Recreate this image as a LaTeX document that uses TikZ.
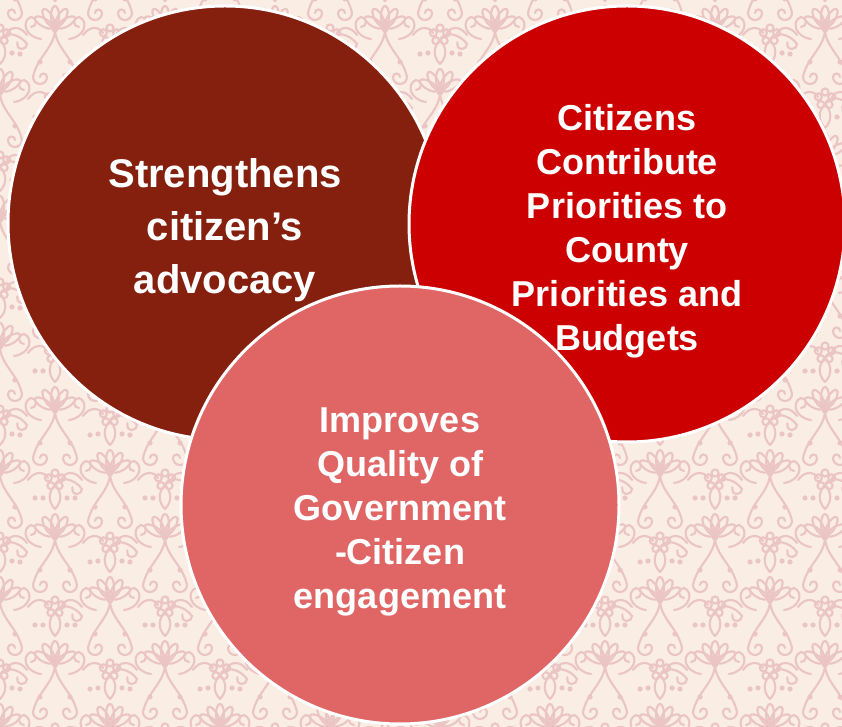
\documentclass[tikz,border=0pt]{standalone}
\usepackage{fontspec}
\setmainfont{Liberation Sans}
\definecolor{bgbase}{HTML}{F9EDE4}
\definecolor{patpink}{HTML}{EBC4C4}
\definecolor{cbrown}{HTML}{86200E}
\definecolor{cred}{HTML}{CC0000}
\definecolor{cpink}{HTML}{E06666}
\tikzset{
  pat/.style={draw=patpink, line width=2.1pt, line cap=round},
  patdot/.style={fill=patpink},
  motif/.pic={
    % fan flower
    \foreach \a in {30,60,90,120,150}
      \draw[pat, rotate=\a] (13,0) ellipse (10 and 4);
    \fill[patdot] (0,0) circle (3.5);
    % stems
    \draw[pat] (0,0) .. controls (0,-18) and (-18,-28) .. (-22,-48);
    \draw[pat] (0,0) .. controls (0,-18) and (18,-28) .. (22,-48);
    % swirls at ends
    \draw[pat] (-22,-48) arc (180:360:7) arc (0:180:3.5);
    \draw[pat] (22,-48) arc (0:-180:7) arc (180:0:3.5);
    % side swirls near flower
    \draw[pat] (-14,-10) .. controls (-30,-8) and (-34,8) .. (-24,12) arc (90:-90:5);
    \draw[pat] (14,-10) .. controls (30,-8) and (34,8) .. (24,12) arc (90:270:5);
    % small flower above
    \foreach \a in {0,72,144,216,288}
      \draw[pat] ($(0,-70)+(\a+90:7)$) circle (3.5);
    % leaves
    \draw[pat] (0,28) .. controls (-8,36) and (-6,46) .. (0,52) .. controls (6,46) and (8,36) .. (0,28);
    % vines between tiles
    \draw[pat] (0,52) .. controls (4,62) and (20,58) .. (27,48) arc (0:-200:5);
    \draw[pat] (-27,-70) .. controls (-20,-60) and (-10,-62) .. (-7,-68);
    \draw[pat] (27,-70) .. controls (20,-60) and (10,-62) .. (7,-68);
    % dots
    \fill[patdot] (-35,-25) circle (2.6);
    \fill[patdot] (35,-25) circle (2.6);
    \fill[patdot] (-12,-88) circle (2.6);
    \fill[patdot] (12,-88) circle (2.6);
    \fill[patdot] (-40,30) circle (2.6);
    \fill[patdot] (40,30) circle (2.6);
  },
  bubble/.style={circle, draw=white, line width=3pt},
  bubbletext/.style={text=white, align=center},
}
\usetikzlibrary{calc}
\begin{document}
\begin{tikzpicture}[x=1pt, y=1pt]
\useasboundingbox (0,0) rectangle (842,727);
\fill[bgbase] (0,0) rectangle (842,727);
\begin{scope}
  \clip (0,0) rectangle (842,727);
  \foreach \i in {-1,...,8} {
    \foreach \j in {-1,...,6} {
      \pic at (\i*110, \j*127) {motif};
      \pic at (\i*110+55, \j*127+63) {motif};
    }
  }
\end{scope}
\node[bubble, fill=cbrown, minimum size=434] (c1) at (225,504) {};
\node[bubbletext, font=\bfseries\fontsize{40}{53}\selectfont] (t1)
  at ([yshift=-7]c1.center) {Strengthens\\citizen’s\\advocacy};
\node[bubble, fill=cred, minimum size=436] (c2) at (627,503) {};
\node[bubbletext, font=\bfseries\fontsize{36}{44}\selectfont] (t2)
  at ([yshift=-7]c2.center)
  {Citizens\\Contribute\\Priorities to\\County\\Priorities and\\Budgets};
\node[bubble, fill=cpink, minimum size=438] (c3) at (400,222) {};
\node[bubbletext, font=\bfseries\fontsize{36}{44}\selectfont] (t3)
  at ([yshift=-7]c3.center)
  {Improves\\Quality of\\Government\\-Citizen\\engagement};
\end{tikzpicture}
\end{document}
